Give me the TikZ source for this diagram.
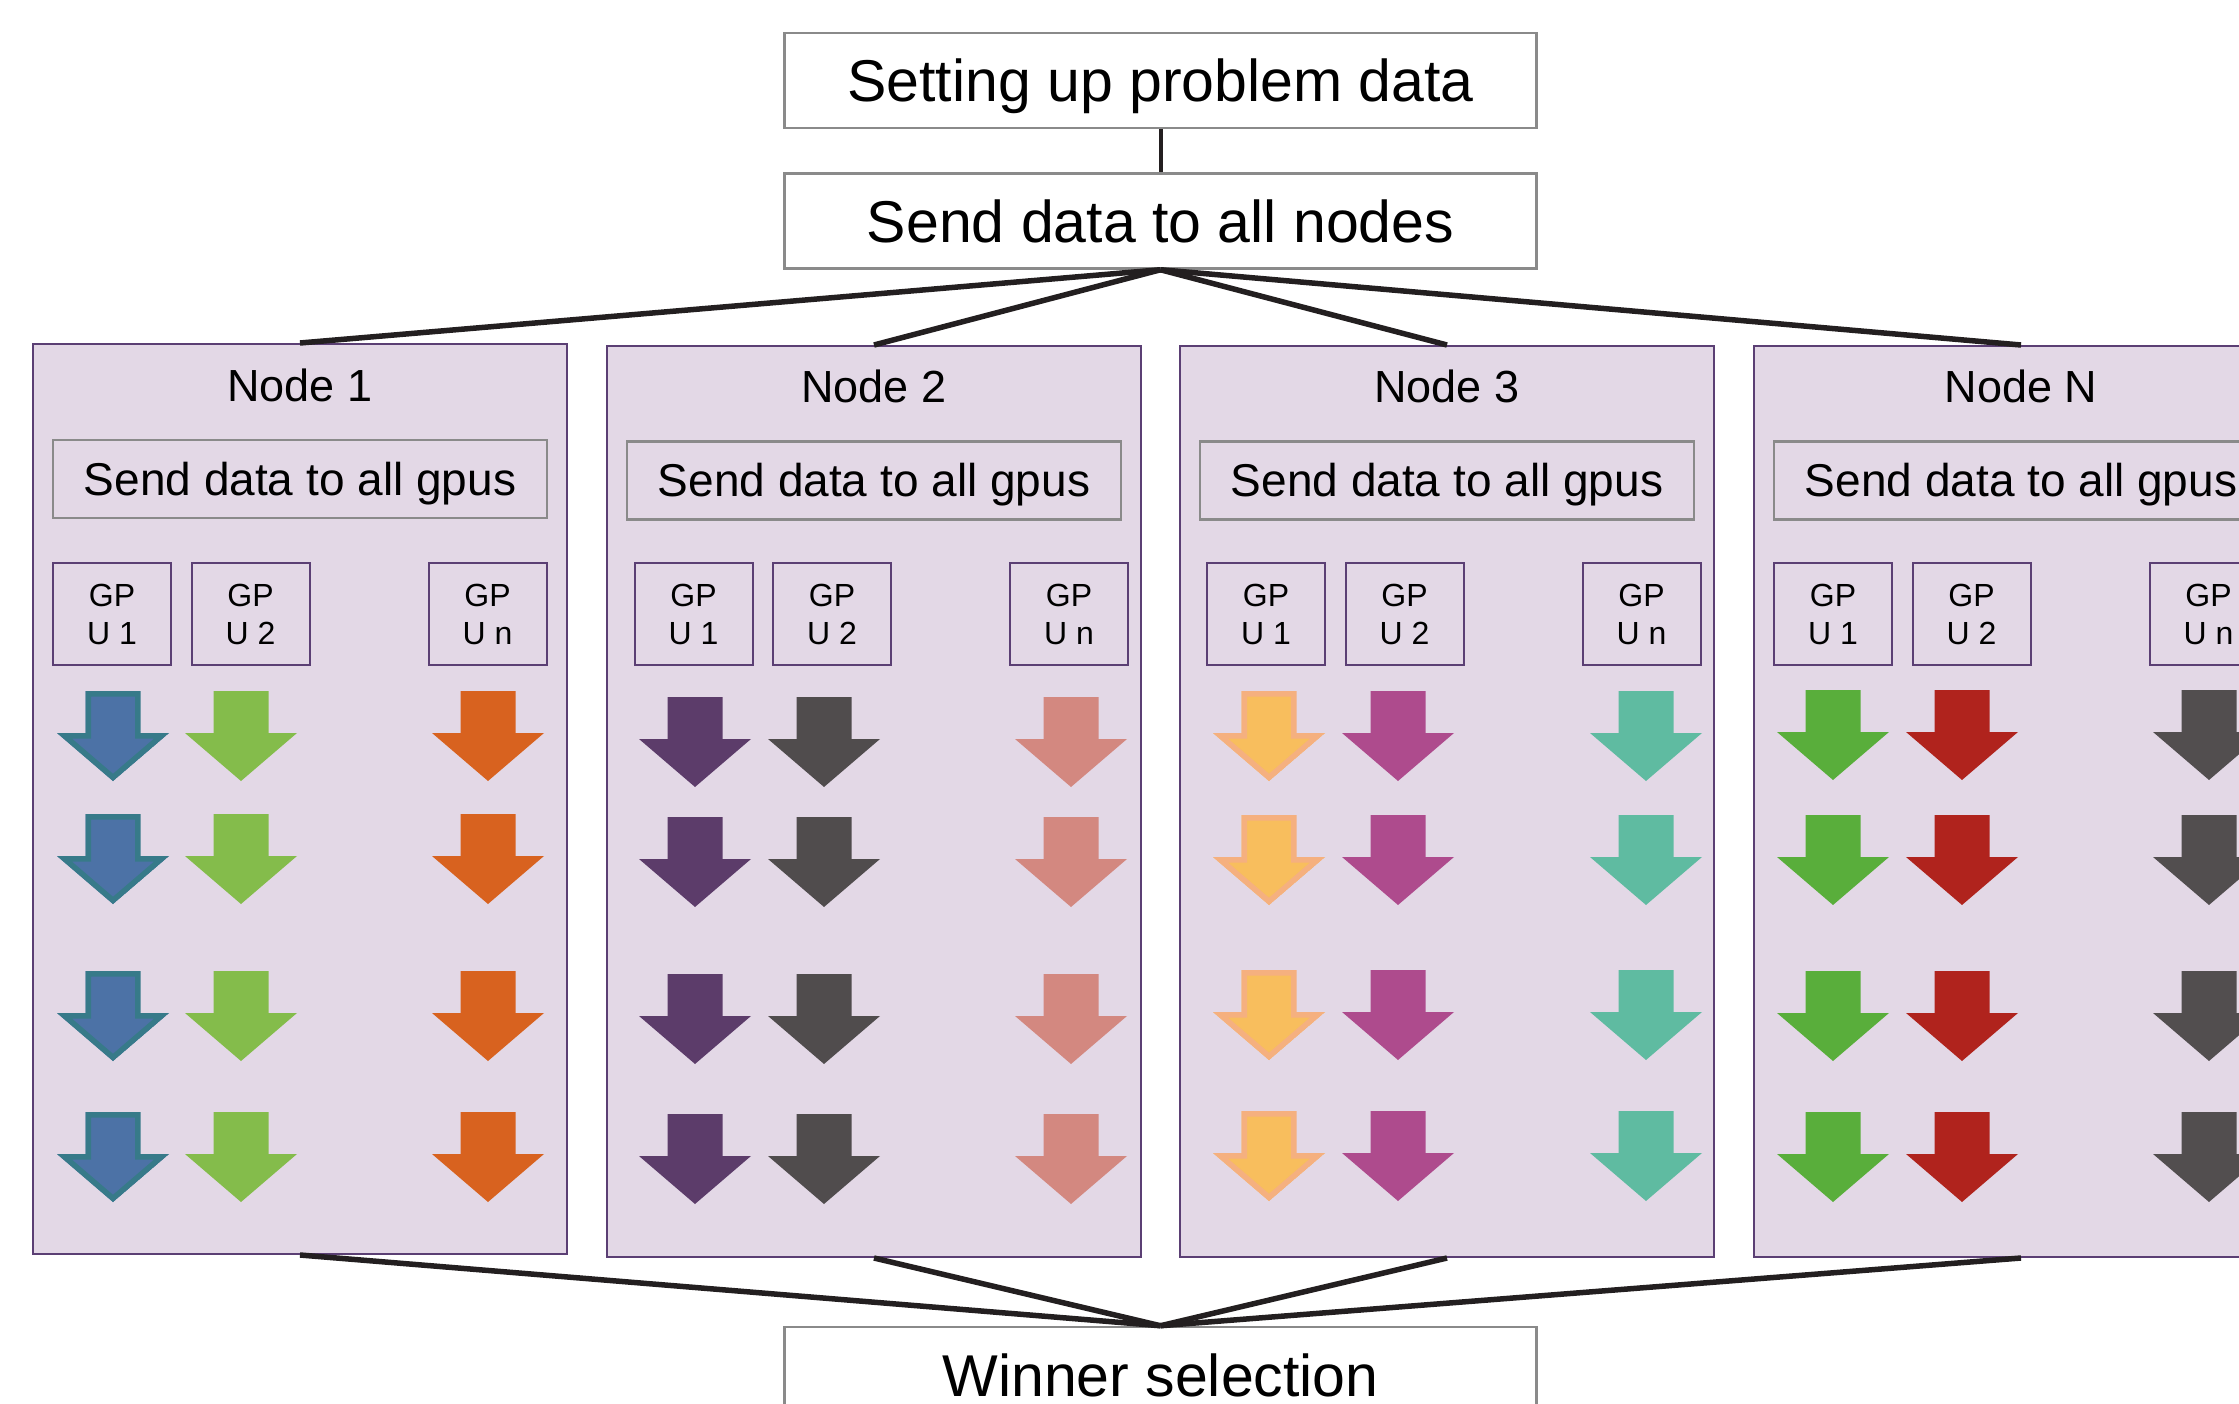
\documentclass[tikz,border=0pt]{standalone}
\usepackage{fontspec}
\setmainfont{Liberation Sans}
\definecolor{panelfill}{HTML}{E3D8E6}
\definecolor{paneledge}{HTML}{5B3F74}
\definecolor{boxedge}{HTML}{8A8A8A}
\definecolor{connc}{HTML}{231F20}
\definecolor{aBlue}{HTML}{4C72A6}
\definecolor{aBlueEdge}{HTML}{377A89}
\definecolor{aGreen}{HTML}{84BC4B}
\definecolor{aOrange}{HTML}{D8621F}
\definecolor{aPurple}{HTML}{5C3C6A}
\definecolor{aGray}{HTML}{504C4D}
\definecolor{aSalmon}{HTML}{D38880}
\definecolor{aYellow}{HTML}{F8BE5D}
\definecolor{aYellowEdge}{HTML}{F5B07F}
\definecolor{aMagenta}{HTML}{AE4B8D}
\definecolor{aTeal}{HTML}{5FBBA1}
\definecolor{aLeaf}{HTML}{59AE3B}
\definecolor{aRed}{HTML}{B0231D}
\definecolor{aDark}{HTML}{524E4F}
\newcommand\arrowshape[2]{(#1-27.5,#2) -- (#1+27.5,#2) -- (#1+27.5,#2+42) -- (#1+56,#2+42) -- (#1,#2+90) -- (#1-56,#2+42) -- (#1-27.5,#2+42) -- cycle}
\newcommand\plainarrow[3]{\fill[#3] \arrowshape{#1}{#2};}
\newcommand\edgedarrow[4]{\begin{scope}\clip \arrowshape{#1}{#2};\fill[#3] \arrowshape{#1}{#2};\draw[#4,line width=11pt] \arrowshape{#1}{#2};\end{scope}}
\begin{document}
\begin{tikzpicture}[x=1pt,y=-1pt,
  topbox/.style={draw=boxedge,line width=2.5pt,fill=white,minimum width=752pt,minimum height=95pt,inner sep=0pt,font=\fontsize{59}{70}\selectfont,text height=42.2pt,text depth=0pt},
  panel/.style={draw=paneledge,line width=2pt,fill=panelfill,minimum width=534pt,inner sep=0pt},
  paneltitle/.style={inner sep=0pt,font=\fontsize{45}{54}\selectfont,text height=32.2pt,text depth=0pt},
  gpubox/.style={draw=boxedge,line width=2.5pt,minimum width=494pt,minimum height=78pt,inner sep=0pt,font=\fontsize{46}{55}\selectfont,text height=32.9pt,text depth=0pt},
  gpu/.style={draw=paneledge,line width=2pt,minimum width=118pt,minimum height=102pt,inner sep=0pt,align=center,font=\fontsize{32}{38}\selectfont},
  conn/.style={draw=connc,line width=5.5pt},
  conn2/.style={draw=connc,line width=4pt}]
\useasboundingbox (0,0) rectangle (2239,1404);
\clip (0,0) rectangle (2239,1404);
% top boxes
\node[topbox] (setup) at (1160.5,80.5) {Setting up problem data};
\node[topbox] (sendall) at (1160.5,221) {Send data to all nodes};
\node[topbox,minimum height=96pt] (winner) at (1160.5,1375) {Winner selection};
\draw[conn2] (setup.south) -- (sendall.north);
% panels
\node[panel,minimum height=910pt] (p1) at (300,799) {};
\node[panel,minimum height=911pt] (p2) at (874,801.5) {};
\node[panel,minimum height=911pt] (p3) at (1447,801.5) {};
\node[panel,minimum height=911pt] (p4) at (2021,801.5) {};
\node[paneltitle] (t1) at (300,385) {Node 1};
\node[paneltitle] (t2) at (874,386) {Node 2};
\node[paneltitle] (t3) at (1447,386) {Node 3};
\node[paneltitle] (t4) at (2021,386) {Node N};
\node[gpubox] (s1) at (300,479) {Send data to all gpus};
\node[gpubox] (s2) at (874,480.5) {Send data to all gpus};
\node[gpubox] (s3) at (1447,480.5) {Send data to all gpus};
\node[gpubox] (s4) at (2021,480.5) {Send data to all gpus};
% gpu boxes
\node[gpu] (g1a) at (112,614) {GP\\U 1};
\node[gpu] (g1b) at (250.5,614) {GP\\U 2};
\node[gpu] (g1c) at (487.5,614) {GP\\U n};
\node[gpu] (g2a) at (693.5,614) {GP\\U 1};
\node[gpu] (g2b) at (832,614) {GP\\U 2};
\node[gpu] (g2c) at (1069,614) {GP\\U n};
\node[gpu] (g3a) at (1266,614) {GP\\U 1};
\node[gpu] (g3b) at (1404.5,614) {GP\\U 2};
\node[gpu] (g3c) at (1641.5,614) {GP\\U n};
\node[gpu] (g4a) at (1833,614) {GP\\U 1};
\node[gpu] (g4b) at (1971.5,614) {GP\\U 2};
\node[gpu] (g4c) at (2208.5,614) {GP\\U n};
% arrows
\foreach \r in {691,814,971,1112}{\edgedarrow{113}{\r}{aBlue}{aBlueEdge}\plainarrow{241}{\r}{aGreen}\plainarrow{488}{\r}{aOrange}}
\foreach \r in {697,817,974,1114}{\plainarrow{695}{\r}{aPurple}\plainarrow{824}{\r}{aGray}\plainarrow{1071}{\r}{aSalmon}}
\foreach \r in {691,815,970,1111}{\edgedarrow{1269}{\r}{aYellow}{aYellowEdge}\plainarrow{1398}{\r}{aMagenta}\plainarrow{1646}{\r}{aTeal}}
\foreach \r in {690,815,971,1112}{\plainarrow{1833}{\r}{aLeaf}\plainarrow{1962}{\r}{aRed}\plainarrow{2209}{\r}{aDark}}
% connectors
\foreach \p in {p1,p2,p3,p4}{\draw[conn] (sendall.south) -- (\p.north);\draw[conn] (\p.south) -- (winner.north);}
\end{tikzpicture}
\end{document}
